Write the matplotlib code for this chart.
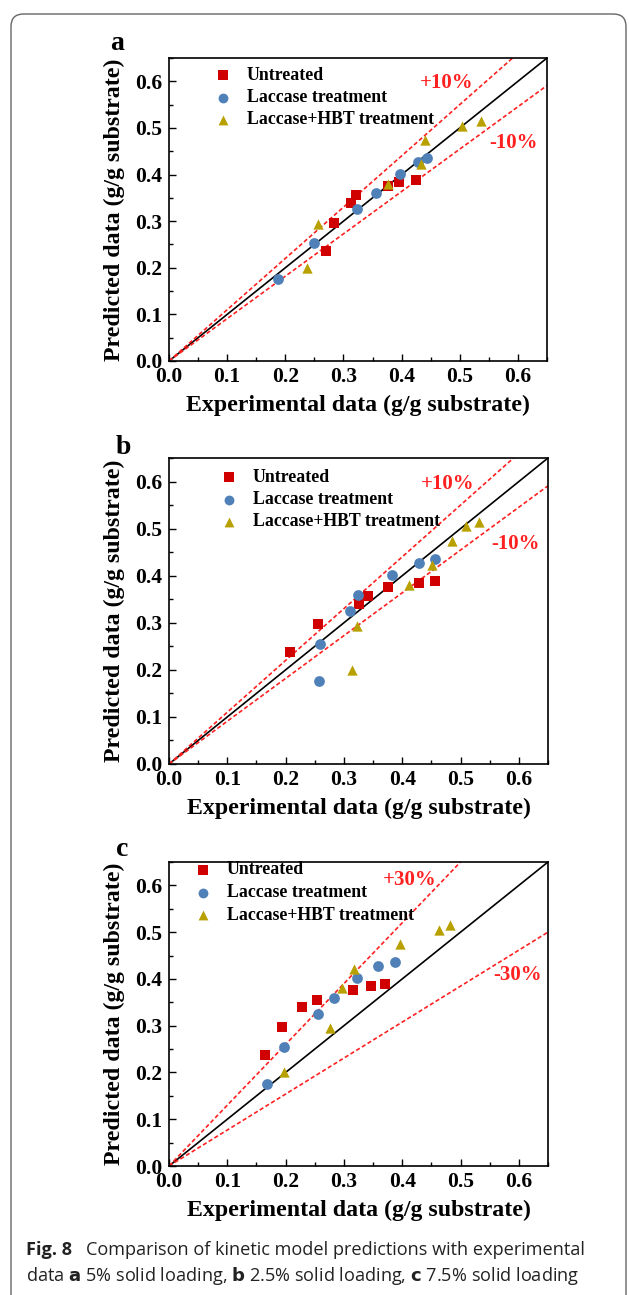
import matplotlib
matplotlib.use("Agg")
import matplotlib.pyplot as plt
import numpy as np
from matplotlib.patches import FancyBboxPatch
from matplotlib.ticker import MultipleLocator

# Predicted values (shared by all panels)
pred_untreated = [0.237, 0.297, 0.339, 0.356, 0.376, 0.385, 0.389]
pred_laccase = [0.176, 0.254, 0.326, 0.360, 0.402, 0.427, 0.436]
pred_hbt = [0.200, 0.294, 0.380, 0.422, 0.474, 0.505, 0.515]

# Experimental values per panel
exp_a_untreated = [0.270, 0.284, 0.313, 0.321, 0.376, 0.395, 0.425]
exp_a_laccase = [0.187, 0.249, 0.324, 0.356, 0.397, 0.428, 0.443]
exp_a_hbt = [0.237, 0.257, 0.376, 0.433, 0.441, 0.503, 0.536]

exp_b_untreated = [0.208, 0.256, 0.326, 0.342, 0.376, 0.429, 0.457]
exp_b_laccase = [0.258, 0.259, 0.311, 0.324, 0.383, 0.428, 0.457]
exp_b_hbt = [0.313, 0.323, 0.412, 0.451, 0.486, 0.510, 0.531]

exp_c_untreated = [0.165, 0.193, 0.228, 0.253, 0.316, 0.346, 0.371]
exp_c_laccase = [0.168, 0.197, 0.255, 0.283, 0.323, 0.358, 0.388]
exp_c_hbt = [0.197, 0.276, 0.297, 0.317, 0.397, 0.463, 0.482]

panel_letters = ["a", "b", "c"]
band_pct = [10, 10, 30]
series_labels = ["Untreated", "Laccase treatment", "Laccase+HBT treatment"]
tick_vals = [0.0, 0.1, 0.2, 0.3, 0.4, 0.5, 0.6]

W, H = 629, 1295
fig = plt.figure(figsize=(W / 100, H / 100), dpi=100)

# border box
box = FancyBboxPatch((11 / W, -0.05), (W - 14) / W, 1 - 14 / H + 0.05,
                     boxstyle="round,pad=0,rounding_size=0.02",
                     transform=fig.transFigure, fill=False,
                     edgecolor="#666666", linewidth=1.0, mutation_aspect=W / H)
fig.patches.append(box)

serif = "Liberation Serif"
colors = ["#d00000", "#4f81b8", "#b8a000"]
markers = ["s", "o", "^"]

# axes boxes in pixels: left, right, top, bottom
boxes = [(169, 547, 58, 361), (169, 548, 458, 764), (169, 548, 862, 1166)]
letter_pos = [(117, 43), (123, 448), (122, 850)]
legend_pos = [(223, 75), (229, 477), (203, 870)]
plus_pos = [(447, 83), (448, 484), (410, 880)]
minus_pos = [(513, 143), (516, 544), (518, 975)]

exp_sets = [
    (exp_a_untreated, exp_a_laccase, exp_a_hbt),
    (exp_b_untreated, exp_b_laccase, exp_b_hbt),
    (exp_c_untreated, exp_c_laccase, exp_c_hbt),
]
preds = (pred_untreated, pred_laccase, pred_hbt)

for i in range(3):
    l, r, t, b = boxes[i]
    ax = fig.add_axes([l / W, 1 - b / H, (r - l) / W, (b - t) / H])
    ax.set_xlim(0, 0.65)
    ax.set_ylim(0, 0.65)
    xs = np.array([0, 0.65])
    k = 1 + band_pct[i] / 100
    ax.plot(xs, xs, color="black", lw=1.2, zorder=2)
    ax.plot(xs, xs * k, color="#ff2020", lw=1.2, ls=(0, (2.5, 1.5)), zorder=2)
    ax.plot(xs, xs / k, color="#ff2020", lw=1.2, ls=(0, (2.5, 1.5)), zorder=2)
    for j in range(3):
        ax.scatter(exp_sets[i][j], preds[j], marker=markers[j], color=colors[j],
                   s=55 if j != 1 else 60, zorder=3, linewidths=0)
    ax.xaxis.set_minor_locator(MultipleLocator(0.05))
    ax.yaxis.set_minor_locator(MultipleLocator(0.05))
    ax.set_xticks(tick_vals)
    ax.set_yticks(tick_vals)
    ax.set_xticklabels([f"{v:.1f}" for v in tick_vals])
    ax.set_yticklabels([f"{v:.1f}" for v in tick_vals])
    ax.tick_params(which="both", direction="in", top=False, right=False)
    ax.tick_params(which="major", length=5, width=1)
    ax.tick_params(which="minor", length=3, width=1)
    for lab in ax.get_xticklabels() + ax.get_yticklabels():
        lab.set_fontfamily(serif)
        lab.set_fontweight("bold")
        lab.set_fontsize(15.5)
    ax.tick_params(axis="x", pad=4)
    ax.tick_params(axis="y", pad=5)
    for sp in ax.spines.values():
        sp.set_linewidth(1.2)
    ax.set_xlabel("Experimental data (g/g substrate)", fontfamily=serif,
                  fontweight="bold", fontsize=17.2, labelpad=6)
    ax.set_ylabel("Predicted data (g/g substrate)", fontfamily=serif,
                  fontweight="bold", fontsize=17.2, labelpad=7)

    # panel letter
    fig.text(letter_pos[i][0] / W, 1 - letter_pos[i][1] / H, panel_letters[i],
             fontfamily=serif, fontweight="bold", fontsize=20,
             ha="center", va="center")
    # legend (manual rows)
    lx, ly = legend_pos[i]
    for j in range(3):
        yy = ly + j * 22.5
        ax.scatter([(lx - l) / (r - l) * 0.65], [(b - yy) / (b - t) * 0.65],
                   marker=markers[j], color=colors[j], s=50, linewidths=0,
                   zorder=4, clip_on=False)
        fig.text((lx + 24) / W, 1 - yy / H, series_labels[j], fontfamily=serif,
                 fontweight="bold", fontsize=12.8, ha="left", va="center")
    fig.text(plus_pos[i][0] / W, 1 - plus_pos[i][1] / H, f"+{band_pct[i]}%",
             fontfamily=serif, fontweight="bold", fontsize=15, color="#ff2020",
             ha="center", va="center")
    fig.text(minus_pos[i][0] / W, 1 - minus_pos[i][1] / H, f"-{band_pct[i]}%",
             fontfamily=serif, fontweight="bold", fontsize=15, color="#ff2020",
             ha="center", va="center")

# caption
cap_font = "Open Sans"
cap_size = 13.1
fig.text(26 / W, 1 - 1250 / H, "Fig. 8", fontfamily=cap_font,
         fontweight="bold", fontsize=cap_size, ha="left", va="center",
         color="#222222")
fig.text(86 / W, 1 - 1250 / H,
         "Comparison of kinetic model predictions with experimental",
         fontfamily=cap_font, fontsize=cap_size, ha="left", va="center",
         color="#222222")
fig.text(26 / W, 1 - 1276 / H,
         r"data $\mathbf{a}$ 5% solid loading, $\mathbf{b}$ 2.5% solid loading, $\mathbf{c}$ 7.5% solid loading",
         fontfamily=cap_font, fontsize=cap_size, ha="left", va="center",
         color="#222222")

fig.savefig("out.png", dpi=100)
